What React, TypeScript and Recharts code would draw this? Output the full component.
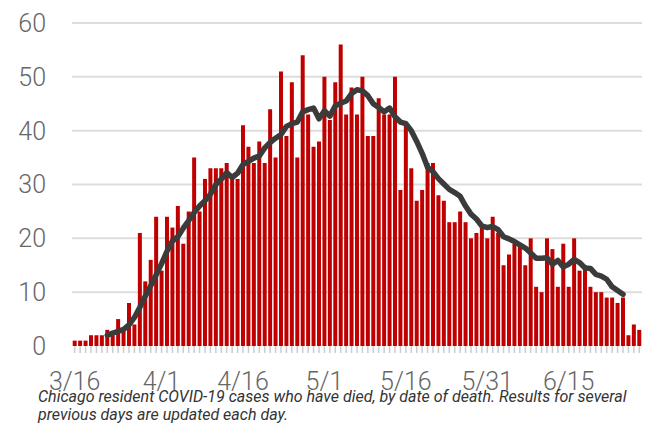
import React from 'react';
import { ComposedChart, Bar, Line, XAxis, YAxis, CartesianGrid } from 'recharts';

const DATES = [
  '3/16', '3/17', '3/18', '3/19', '3/20', '3/21', '3/22', '3/23', '3/24', '3/25', '3/26', '3/27', '3/28', '3/29', '3/30', '3/31',
  '4/1', '4/2', '4/3', '4/4', '4/5', '4/6', '4/7', '4/8', '4/9', '4/10', '4/11', '4/12', '4/13', '4/14', '4/15',
  '4/16', '4/17', '4/18', '4/19', '4/20', '4/21', '4/22', '4/23', '4/24', '4/25', '4/26', '4/27', '4/28', '4/29', '4/30',
  '5/1', '5/2', '5/3', '5/4', '5/5', '5/6', '5/7', '5/8', '5/9', '5/10', '5/11', '5/12', '5/13', '5/14', '5/15',
  '5/16', '5/17', '5/18', '5/19', '5/20', '5/21', '5/22', '5/23', '5/24', '5/25', '5/26', '5/27', '5/28', '5/29', '5/30',
  '5/31', '6/1', '6/2', '6/3', '6/4', '6/5', '6/6', '6/7', '6/8', '6/9', '6/10', '6/11', '6/12', '6/13', '6/14',
  '6/15', '6/16', '6/17', '6/18', '6/19', '6/20', '6/21', '6/22', '6/23', '6/24', '6/25', '6/26', '6/27', '6/28',
];

// deaths per day, by date of death
const DEATHS = [
  1, 1, 1, 2, 2, 2, 3, 2, 5, 3,
  8, 4, 21, 12, 16, 24, 14, 24, 22, 26,
  19, 25, 35, 25, 31, 33, 33, 33, 34, 31,
  31, 41, 37, 34, 38, 34, 44, 35, 51, 39,
  49, 35, 54, 43, 37, 38, 50, 42, 49, 56,
  43, 48, 43, 50, 39, 39, 46, 43, 43, 50,
  29, 41, 33, 27, 29, 34, 34, 28, 27, 23,
  23, 25, 23, 20, 21, 22, 20, 24, 21, 15,
  17, 19, 19, 15, 20, 11, 10, 20, 18, 11,
  19, 11, 20, 14, 15, 11, 10, 10, 9, 9,
  8, 9, 2, 4, 3,
];

// 7-day average line
const AVERAGE = [
  null, null, null, null, null, null, 2.0, 2.4, 2.7, 3.1,
  3.9, 5.3, 7.2, 9.3, 11.2, 13.2, 15.3, 17.6, 19.5, 20.3,
  21.9, 23.3, 24.8, 26.0, 27.0, 28.2, 30.0, 31.0, 32.2, 31.3,
  32.1, 33.7, 34.3, 34.9, 35.3, 36.8, 37.8, 38.6, 39.3, 40.8,
  41.3, 41.6, 43.5, 43.9, 44.2, 42.2, 43.7, 42.7, 44.6, 45.1,
  45.5, 46.9, 47.6, 47.4, 46.5, 45.0, 44.3, 43.5, 44.2, 42.6,
  41.6, 41.3, 40.0, 38.0, 35.8, 33.2, 32.4, 31.1, 30.1, 29.1,
  28.5, 27.8, 26.0, 24.5, 23.6, 22.3, 22.0, 22.2, 21.6, 20.3,
  19.9, 19.4, 18.8, 18.2, 17.3, 16.3, 16.3, 16.4, 15.2, 15.9,
  14.7, 15.2, 16.1, 15.5, 14.5, 14.4, 13.3, 13.0, 12.4, 11.0,
  10.3, 9.6, null, null, null,
];

const X_LABELS = ['3/16', '4/1', '4/16', '5/1', '5/16', '5/31', '6/15'];
const Y_TICKS = [0, 10, 20, 30, 40, 50, 60];

const data = DATES.map((date, i) => ({ date, deaths: DEATHS[i], avg: AVERAGE[i] }));

const tickFont = { fontFamily: 'Roboto', fontWeight: 300, fontSize: 25, fill: '#666' };

export default function App() {
  return (
    <div style={{ position: 'absolute', left: 0, top: 0, width: 650, height: 426, background: '#fff' }}>
      <ComposedChart
        width={650}
        height={426}
        data={data}
        margin={{ top: 23, right: 8, left: 0, bottom: 0 }}
        barCategoryGap="13%"
      >
        <CartesianGrid vertical={false} stroke="#dddddd" strokeWidth={2} horizontalValues={[10, 20, 30, 40, 50, 60]} />
        <XAxis
          dataKey="date"
          interval={0}
          axisLine={false}
          tickLine={{ stroke: '#cccccc', strokeWidth: 1.5 }}
          tickSize={7}
          tickMargin={19}
          height={80}
          tick={tickFont}
          tickFormatter={(v: string) => (X_LABELS.includes(v) ? v : '')}
        />
        <YAxis
          domain={[0, 60]}
          ticks={Y_TICKS}
          axisLine={false}
          tickLine={false}
          tickSize={0}
          tickMargin={26}
          width={72}
          tick={tickFont}
        />
        <Bar dataKey="deaths" fill="#c00000" isAnimationActive={false} />
        <Line
          dataKey="avg"
          type="linear"
          stroke="#3b3b3b"
          strokeWidth={5.5}
          strokeLinejoin="round"
          strokeLinecap="round"
          dot={false}
          activeDot={false}
          connectNulls={false}
          isAnimationActive={false}
        />
      </ComposedChart>
      <div
        style={{
          position: 'absolute',
          left: 38,
          top: 388,
          width: 610,
          fontFamily: 'Roboto',
          fontStyle: 'italic',
          fontSize: 16,
          lineHeight: '18px',
          color: '#333',
          whiteSpace: 'nowrap',
        }}
      >
        Chicago resident COVID-19 cases who have died, by date of death. Results for several
        <br />
        previous days are updated each day.
      </div>
    </div>
  );
}
